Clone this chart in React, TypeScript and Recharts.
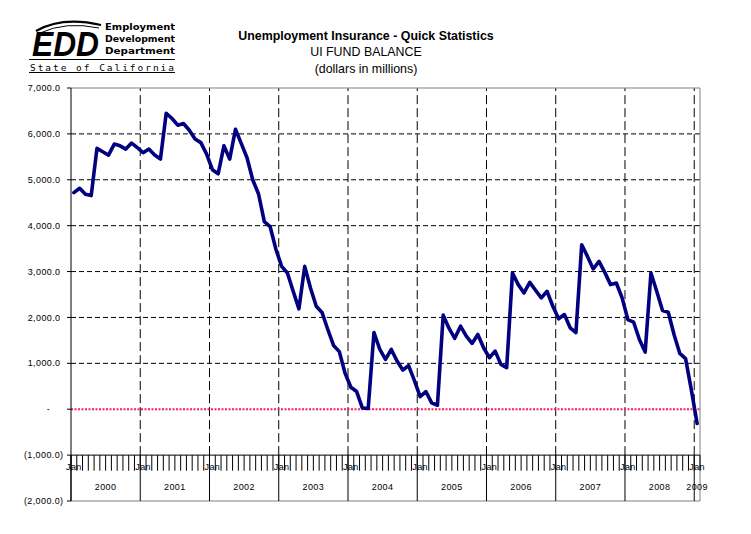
import React from 'react';
import { LineChart, Line, XAxis, YAxis, ReferenceLine, ReferenceDot } from 'recharts';

// UI fund balance, dollars in millions, monthly Jan 2000 .. Jan 2009
const bal2000 = [4720, 4815, 4685, 4655, 5684, 5610, 5538, 5778, 5740, 5669, 5800, 5700];
const bal2001 = [5589, 5669, 5538, 5452, 6450, 6335, 6190, 6226, 6080, 5890, 5810, 5560];
const bal2002 = [5220, 5130, 5740, 5450, 6100, 5793, 5480, 4996, 4690, 4090, 3981, 3490];
const bal2003 = [3113, 2969, 2570, 2187, 3113, 2643, 2244, 2110, 1738, 1390, 1255, 780];
const bal2004 = [480, 385, 25, 15, 1670, 1310, 1086, 1303, 1050, 854, 950, 630];
const bal2005 = [275, 385, 138, 87, 2050, 1765, 1545, 1810, 1592, 1434, 1629, 1340];
const bal2006 = [1123, 1266, 977, 905, 2969, 2715, 2534, 2765, 2592, 2426, 2570, 2244];
const bal2007 = [1970, 2063, 1774, 1670, 3584, 3330, 3056, 3221, 2982, 2715, 2751, 2426];
const bal2008 = [1955, 1896, 1520, 1245, 2969, 2570, 2150, 2114, 1629, 1216, 1101, 420];
const bal2009 = [-311];

const years = ['2000', '2001', '2002', '2003', '2004', '2005', '2006', '2007', '2008', '2009'];
const monthLabel = 'Jan';
const yTicks = [-2000, -1000, 0, 1000, 2000, 3000, 4000, 5000, 6000, 7000];
const gridValues = [1000, 2000, 3000, 4000, 5000, 6000];

const values = [
  ...bal2000, ...bal2001, ...bal2002, ...bal2003, ...bal2004,
  ...bal2005, ...bal2006, ...bal2007, ...bal2008, ...bal2009,
];
const data = values.map((v, i) => ({ i, v }));
const n = values.length; // 109 months

const FONT = '"Liberation Sans", Arial, sans-serif';

const fmt = (v: number) => {
  if (v === 0) return '-';
  const s = Math.abs(v).toLocaleString('en-US', { minimumFractionDigits: 1, maximumFractionDigits: 1 });
  return v < 0 ? `(${s})` : s;
};

const YTick = (props: any) => {
  const { x, y, payload } = props;
  const v = payload.value;
  let tx = x - 6.5;
  let anchor: any = 'end';
  if (v < 0) tx = x - 3.5;
  if (v === 0) {
    tx = x - 18.5;
    anchor = 'middle';
  }
  return (
    <text x={tx} y={y} dy="0.35em" textAnchor={anchor} fontSize={9} letterSpacing={0.4} fontFamily={FONT} fill="#000">
      {fmt(v)}
    </text>
  );
};

// x positions of slot boundaries (between months)
const boundaries = Array.from({ length: n + 1 }, (_, k) => k - 0.5);
const yearStarts = years.map((_, k) => k * 12);

const LabelShape = (text: string) => (props: any) => (
  <text x={props.cx} y={props.cy} dy="0.35em" textAnchor="middle" fontSize={9} letterSpacing={0.4} fontFamily={FONT} fill="#000">
    {text}
  </text>
);

const LOGO_FONT = '"DejaVu Sans", sans-serif';

export default function App() {
  return (
    <div style={{ position: 'absolute', left: 0, top: 0, width: 751, height: 534, background: '#fff' }}>
      <LineChart width={751} height={534} data={data} margin={{ top: 88, right: 51, bottom: 33, left: 0 }}>
        <XAxis dataKey="i" type="number" domain={[-0.5, n - 0.5]} allowDataOverflow hide />
        <YAxis
          type="number"
          domain={[-2000, 7000]}
          allowDataOverflow
          ticks={yTicks}
          interval={0}
          width={71}
          tickSize={4}
          tickMargin={0}
          axisLine={{ stroke: '#000', strokeWidth: 1 }}
          tickLine={{ stroke: '#000', strokeWidth: 1 }}
          tick={<YTick />}
        />
        {gridValues.map((g) => (
          <ReferenceLine key={'h' + g} y={g} stroke="#000" strokeWidth={1} strokeDasharray="5 3" />
        ))}
        {yearStarts.slice(1).map((s) => (
          <ReferenceLine
            key={'v' + s}
            segment={[{ x: s - 0.5, y: -1000 }, { x: s - 0.5, y: 7000 }]}
            stroke="#000"
            strokeWidth={1}
            strokeDasharray="9 4"
          />
        ))}
        <ReferenceLine y={7000} stroke="#808080" strokeWidth={1} />
        <ReferenceLine y={-2000} stroke="#808080" strokeWidth={1} />
        <ReferenceLine x={n - 0.5} stroke="#808080" strokeWidth={1} />
        <ReferenceLine y={-1000} stroke="#000" strokeWidth={1} />
        {boundaries.map((b) => (
          <ReferenceLine key={'t' + b} segment={[{ x: b, y: -1000 }, { x: b, y: -1340 }]} stroke="#000" strokeWidth={1} />
        ))}
        {yearStarts.map((s) => (
          <ReferenceLine key={'ys' + s} segment={[{ x: s - 0.5, y: -2000 }, { x: s - 0.5, y: -1000 }]} stroke="#000" strokeWidth={1} />
        ))}
        {yearStarts.map((s) => (
          <ReferenceDot key={'jan' + s} x={s} y={-1250} r={0} shape={LabelShape(monthLabel)} />
        ))}
        {years.map((yr, k) => {
          const start = k * 12;
          const end = Math.min(start + 12, n);
          const mid = (start + end - 1) / 2;
          return <ReferenceDot key={'yr' + yr} x={mid} y={-1690} r={0} shape={LabelShape(yr)} />;
        })}
        <ReferenceLine y={0} stroke="#FF1a66" strokeWidth={2} strokeDasharray="2 1.5" />
        <Line
          type="linear"
          dataKey="v"
          stroke="#000080"
          strokeWidth={3.6}
          strokeLinejoin="round"
          strokeLinecap="round"
          dot={false}
          activeDot={false}
          isAnimationActive={false}
        />
      </LineChart>
      <svg width={751} height={88} style={{ position: 'absolute', left: 0, top: 0, pointerEvents: 'none' }}>
        {/* Logo */}
        <path d="M36,31 Q62,16 101,25" fill="none" stroke="#000" strokeWidth={2.2} />
        <path d="M40,33 Q66,21 99,28" fill="none" stroke="#000" strokeWidth={1} />
        <text x={32} y={56} fontSize={35} fontWeight="bold" fontStyle="italic" fontFamily={FONT} textLength={67} lengthAdjust="spacingAndGlyphs" fill="#000">
          EDD
        </text>
        <text x={105} y={29.5} fontSize={9.5} fontWeight="bold" fontFamily={LOGO_FONT} textLength={70} lengthAdjust="spacingAndGlyphs" fill="#000">
          Employment
        </text>
        <text x={105} y={41.5} fontSize={9.5} fontWeight="bold" fontFamily={LOGO_FONT} textLength={70} lengthAdjust="spacingAndGlyphs" fill="#000">
          Development
        </text>
        <text x={105} y={53.5} fontSize={9.5} fontWeight="bold" fontFamily={LOGO_FONT} textLength={70} lengthAdjust="spacingAndGlyphs" fill="#000">
          Department
        </text>
        <line x1={29} y1={59.5} x2={175} y2={59.5} stroke="#000" strokeWidth={1.2} />
        <text x={30} y={70.5} fontSize={9.5} fontFamily='"DejaVu Sans Mono", monospace' textLength={144} lengthAdjust="spacing" fill="#000">
          State of California
        </text>
        <line x1={29} y1={72.5} x2={175} y2={72.5} stroke="#000" strokeWidth={1} />
        {/* Title */}
        <text x={366} y={39.5} textAnchor="middle" fontSize={12.4} fontWeight="bold" fontFamily={FONT} fill="#000">
          Unemployment Insurance - Quick Statistics
        </text>
        <text x={366} y={56} textAnchor="middle" fontSize={12.4} fontFamily={FONT} fill="#000">
          UI FUND BALANCE
        </text>
        <text x={366} y={72.5} textAnchor="middle" fontSize={12.4} fontFamily={FONT} fill="#000">
          (dollars in millions)
        </text>
      </svg>
    </div>
  );
}
